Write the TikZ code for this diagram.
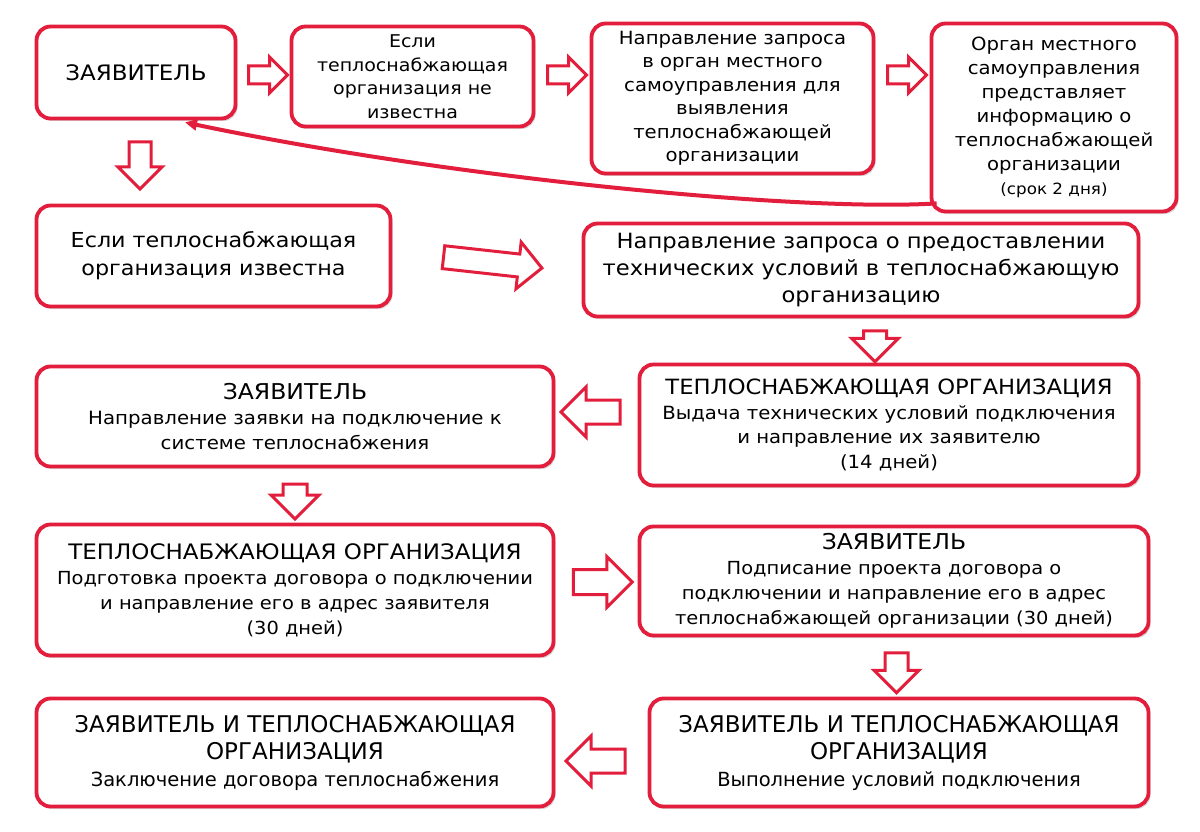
\documentclass[tikz,border=0pt]{standalone}
\usepackage{fontspec}
\setmainfont{DejaVu Sans}[FakeStretch=1.08]
\newfontfamily\plainfont{DejaVu Sans}
\usetikzlibrary{shapes.arrows,shadows,calc,arrows.meta}
\definecolor{brd}{RGB}{226,30,60}
\newcommand{\fs}[2]{\fontsize{#1}{#2}\selectfont}
\newcommand{\shaft}[1]{\rule{0pt}{#1}}
\begin{document}
\begin{tikzpicture}[x=1pt,y=-1pt,
  box/.style={draw=brd, line width=3.8pt, rounded corners=14pt, fill=white,
    align=center, inner sep=0pt,
    drop shadow={shadow xshift=2pt,shadow yshift=-2.5pt,opacity=0.25,fill=black!60}},
  harr/.style={single arrow, draw=brd, line width=3pt, fill=white, inner sep=0pt,
    single arrow head indent=0pt, anchor=center},
  conn/.style={draw=brd, line width=4pt, -{Triangle[length=12pt,width=11pt]}}]
\useasboundingbox (0,0) rectangle (1200,832);
\fill[white] (0,0) rectangle (1200,832);

% boxes
\node[box, minimum width=199pt, minimum height=92pt, font=\fs{21.3}{25}] (A) at (136,72.5) {ЗАЯВИТЕЛЬ};
\node[box, minimum width=242pt, minimum height=100pt, font=\fs{17.6}{23.5}] (B) at (412.5,76.5)
  {Если\\теплоснабжающая\\организация не\\известна};
\node[box, minimum width=282pt, minimum height=150pt, font=\fs{18.2}{23.5}] (C) at (732.5,98.5)
  {Направление запроса\\в орган местного\\самоуправления для\\выявления\\теплоснабжающей\\организации};
\node[box, minimum width=245pt, minimum height=188pt, font=\fs{18.2}{24}] (D) at (1054,117.5)
  {Орган местного\\самоуправления\\представляет\\информацию о\\теплоснабжающей\\организации\\{\fs{15.5}{21}(срок 2 дня)}};
\node[box, minimum width=354pt, minimum height=101pt, font=\fs{20.6}{28}] (E) at (213.5,256)
  {Если теплоснабжающая\\организация известна};
\node[box, minimum width=555pt, minimum height=93pt, font=\fs{21}{27}] (F) at (861,270)
  {Направление запроса о предоставлении\\технических условий в теплоснабжающую\\организацию};
\node[box, minimum width=499pt, minimum height=121pt, font=\fs{18.2}{24.5}] (G) at (889,425)
  {{\fs{21}{27}ТЕПЛОСНАБЖАЮЩАЯ ОРГАНИЗАЦИЯ}\\Выдача технических условий подключения\\и направление их заявителю\\(14 дней)};
\node[box, minimum width=517pt, minimum height=100pt, font=\fs{18.3}{25}] (H) at (295,416.5)
  {{\fs{21.8}{26}ЗАЯВИТЕЛЬ}\\Направление заявки на подключение к\\системе теплоснабжения};
\node[box, minimum width=517pt, minimum height=131pt, font=\fs{18}{25}] (I) at (295,590)
  {{\fs{21.3}{27}ТЕПЛОСНАБЖАЮЩАЯ ОРГАНИЗАЦИЯ}\\Подготовка проекта договора о подключении\\и направление его в адрес заявителя\\(30 дней)};
\node[box, minimum width=509pt, minimum height=109pt, font=\fs{18}{25}] (J) at (894,581)
  {{\fs{21.8}{26}ЗАЯВИТЕЛЬ}\\Подписание проекта договора о\\подключении и направление его в адрес\\теплоснабжающей организации (30 дней)};
\node[box, minimum width=499pt, minimum height=108pt, font=\plainfont\fs{19.5}{27}] (K) at (899,752.5)
  {{\fs{23}{28}ЗАЯВИТЕЛЬ И ТЕПЛОСНАБЖАЮЩАЯ}\\{\fs{23}{28}ОРГАНИЗАЦИЯ}\\Выполнение условий подключения};
\node[box, minimum width=517pt, minimum height=108pt, font=\plainfont\fs{19.5}{27}] (L) at (295,752.5)
  {{\fs{23}{28}ЗАЯВИТЕЛЬ И ТЕПЛОСНАБЖАЮЩАЯ}\\{\fs{23}{28}ОРГАНИЗАЦИЯ}\\Заключение договора теплоснабжения};

% helper coordinates between boxes
\coordinate (m1) at ($(A.east)!0.5!(B.west)$);
\coordinate (m2) at ($(B.east)!0.5!(C.west)$);
\coordinate (m3) at ($(C.east)!0.5!(D.west)$);
\coordinate (m5) at ($(E.east)!0.5!(F.west)$);
\coordinate (m6) at ($(F.south)!0.5!(G.north)$);
\coordinate (m7) at ($(G.west)!0.5!(H.east)$);
\coordinate (m8) at ($(H.south)!0.5!(I.north)$);
\coordinate (m9) at ($(I.east)!0.5!(J.west)$);
\coordinate (m10) at ($(J.south)!0.5!(K.north)$);
\coordinate (m11) at ($(K.west)!0.5!(L.east)$);
\coordinate (h1) at (0,75);
\coordinate (h5) at (0,262);
\coordinate (h7) at (0,412);
\coordinate (h9) at (0,582);
\coordinate (h11) at (0,761);

% block arrows
\node[harr, minimum height=39pt, single arrow head extend=9pt] (a1) at (m1 |- h1) {\shaft{15pt}};
\node[harr, minimum height=39pt, single arrow head extend=9pt] (a2) at (m2 |- h1) {\shaft{15pt}};
\node[harr, minimum height=39pt, single arrow head extend=9pt] (a3) at (m3 |- h1) {\shaft{15pt}};
\node[harr, minimum height=47pt, single arrow head extend=11pt, rotate=-90] (a4) at (140,160) {\shaft{19pt}};
\node[harr, minimum height=99pt, single arrow head extend=12pt, rotate=-6.3] (a5) at (m5 |- h5) {\shaft{20pt}};
\node[harr, minimum height=31pt, single arrow head extend=12pt, rotate=-90] (a6) at (m6) {\shaft{20pt}};
\node[harr, minimum height=59pt, single arrow head extend=13pt, rotate=180] (a7) at (m7 |- h7) {\shaft{21pt}};
\node[harr, minimum height=35pt, single arrow head extend=12pt, rotate=-90] (a8) at (m8) {\shaft{21pt}};
\node[harr, minimum height=59pt, single arrow head extend=13pt] (a9) at (m9 |- h9) {\shaft{22pt}};
\node[harr, minimum height=40pt, single arrow head extend=11pt, rotate=-90] (a10) at (m10) {\shaft{20pt}};
\node[harr, minimum height=59pt, single arrow head extend=13pt, rotate=180] (a11) at (m11 |- h11) {\shaft{21pt}};

% curved connector from D back to A
\coordinate (d0) at ($(D.south west)+(7,-10)$);
\coordinate (a0) at ($(A.south)+(49,2)$);
\draw[conn] (d0) .. controls (800,212) and (450,178) .. (a0);
\end{tikzpicture}
\end{document}
